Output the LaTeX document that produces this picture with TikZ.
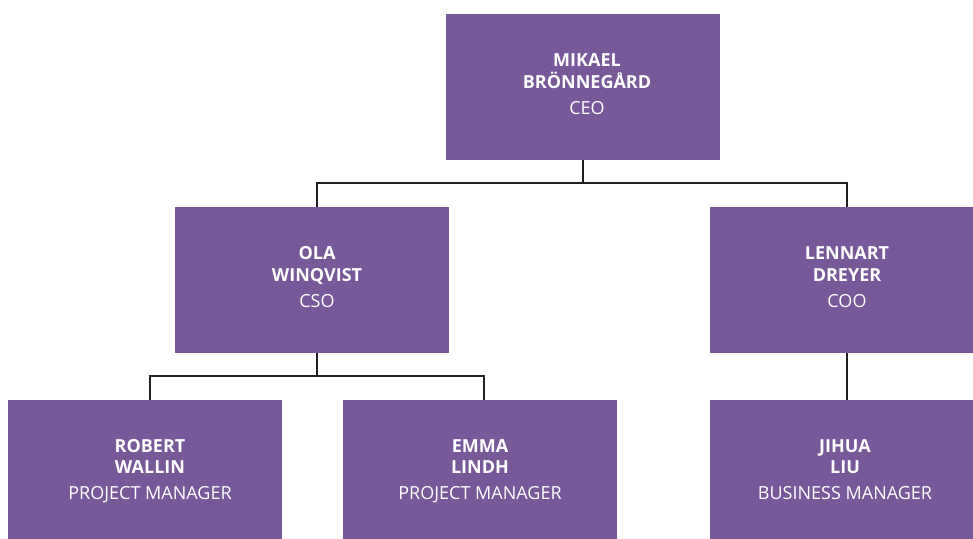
\documentclass[tikz,border=0pt]{standalone}
\usepackage{fontspec}
\setmainfont{Open Sans}
\usetikzlibrary{calc}
\definecolor{boxpurple}{RGB}{119,88,153}
\definecolor{linedark}{RGB}{35,31,32}
\newcommand{\personcard}[3]{\begin{tabular}[t]{@{}c@{}}\textbf{#1}\\\textbf{\smash{#2}}\\[4.4pt]#3\end{tabular}}
\tikzset{
  orgbox/.style={rectangle, fill=boxpurple, draw=none, minimum width=274pt, minimum height=146pt, inner sep=0pt, outer sep=0pt},
  cardtext/.style={anchor=base, inner sep=0pt, text=white, font=\fontsize{18}{21.6}\selectfont},
  link/.style={draw=linedark, line width=2pt}
}
\begin{document}
\begin{tikzpicture}[x=1pt,y=-1pt]
\clip (0,0) rectangle (973,538);
\fill[white] (0,0) rectangle (973,538);
% boxes
\node[orgbox] (ceo) at (583,87) {};
\node[orgbox] (cso) at (312,280) {};
\node[orgbox] (coo) at (847,280) {};
\node[orgbox] (rob) at (145,473) {};
\node[orgbox] (emm) at (480,473) {};
\node[orgbox] (jih) at (847,473) {};
% connectors
\draw[link] (ceo.south) -- ++(0,22.5) -| ($(cso.north)+(5,0)$);
\draw[link] (ceo.south) -- ++(0,22.5) -| (coo.north);
\draw[link] ($(cso.south)+(5,0)$) -- ++(0,22.5) -| ($(rob.north)+(5,0)$);
\draw[link] ($(cso.south)+(5,0)$) -- ++(0,22.5) -| ($(emm.north)+(4,0)$);
\draw[link] (coo.south) -- (jih.north);
% texts
\node[cardtext] (ceot) at ($(ceo.north)+(4,52.7)$) {\personcard{MIKAEL}{BRÖNNEGÅRD}{CEO}};
\node[cardtext] (csot) at ($(cso.north)+(5,52.5)$) {\personcard{OLA}{WINQVIST}{CSO}};
\node[cardtext] (coot) at ($(coo.north)+(0,52.7)$) {\personcard{LENNART}{DREYER}{COO}};
\node[cardtext] (robt) at ($(rob.north)+(5,52)$) {\personcard{ROBERT}{WALLIN}{PROJECT MANAGER}};
\node[cardtext] (emmt) at ($(emm.north)+(0,52)$) {\personcard{EMMA}{LINDH}{PROJECT MANAGER}};
\node[cardtext] (jiht) at ($(jih.north)+(-2,52)$) {\personcard{JIHUA}{LIU}{BUSINESS MANAGER}};
\end{tikzpicture}
\end{document}
